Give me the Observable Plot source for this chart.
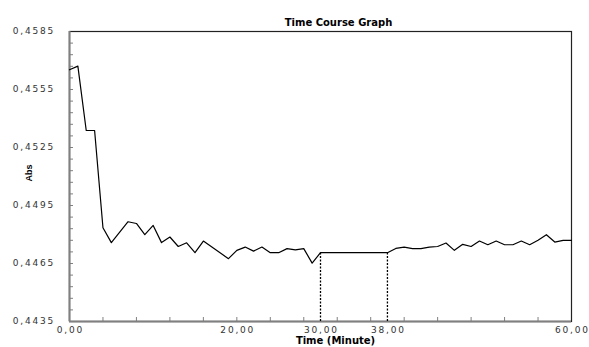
<!DOCTYPE html>
<html>
<head>
<meta charset="utf-8">
<script src="https://cdn.jsdelivr.net/npm/d3@7"></script>
<script src="https://cdn.jsdelivr.net/npm/@observablehq/plot@0.6"></script>
<style>
  html, body { margin: 0; padding: 0; background: #fff; }
  #chart svg { display: block; }
</style>
</head>
<body>
<div id="chart"></div>
<script>
const chartTitle = "Time Course Graph";
const xTitle = "Time (Minute)";
const yTitle = "Abs";

const times = [0,1,2,3,4,5,7,8,9,10,11,12,13,14,15,16,19,20,21,22,23,24,25,26,27,28,29,30,
               38,39,40,41,42,43,44,45,46,47,48,49,50,51,52,53,54,55,56,57,58,59,60];
const absValues = [0.45652,0.45671,0.45338,0.45338,0.44835,0.44758,0.44866,0.44857,0.44799,0.44847,
                   0.44758,0.44787,0.44738,0.44757,0.44706,0.44766,0.44675,0.44718,0.44735,0.44714,
                   0.44735,0.44706,0.44706,0.44727,0.44720,0.44727,0.44652,0.44706,
                   0.44706,0.44728,0.44735,0.44727,0.44727,0.44735,0.44738,0.44756,0.44718,0.44749,
                   0.44738,0.44766,0.44747,0.44766,0.44747,0.44747,0.44766,0.44747,0.44770,0.44799,
                   0.44761,0.44770,0.44770];

const markerTimes = [30, 38];
const markerValue = 0.44706;

const xLabelTicks = [0, 20, 30, 38, 60];
const xMinorTicks = [0,4,8,12,16,20,24,28,32,36,40,44,48,52,56,60];
const yLabelTicks = [0.4435, 0.4465, 0.4495, 0.4525, 0.4555, 0.4585];
const yMinorTicks = d3.range(0, 26).map(i => +(0.4435 + i * 0.0006).toFixed(4));

const data = times.map((t, i) => ({t, v: absValues[i]}));
const markers = markerTimes.map(t => ({t, v: markerValue}));

const comma = (d, n) => d.toFixed(n).replace(".", ",");
const tickFont = "DejaVu Sans, Verdana, sans-serif";

const plot = Plot.plot({
  width: 589,
  height: 347,
  marginLeft: 69,
  marginRight: 18,
  marginTop: 31,
  marginBottom: 26,
  style: {fontFamily: tickFont, background: "#fff"},
  x: {domain: [0, 60]},
  y: {domain: [0.4435, 0.4585]},
  marks: [
    // minor ticks (inward)
    Plot.axisY(yMinorTicks, {anchor: "left", tickSize: 4, dx: 4, tickFormat: () => "", stroke: "#808080", label: null}),
    Plot.axisX(xMinorTicks, {anchor: "bottom", tickSize: 4, dy: -4, tickFormat: () => "", stroke: "#808080", label: null}),
    // tick labels
    Plot.axisY(yLabelTicks, {anchor: "left", tickSize: 0, tickPadding: 14.5, tickFormat: d => comma(d, 4),
      fontSize: 9, fill: "#333", label: null}),
    Plot.axisX(xLabelTicks, {anchor: "bottom", tickSize: 0, tickPadding: 5.5, tickFormat: d => comma(d, 2),
      fontSize: 9, fill: "#333", dx: 0.9, label: null}),
    // frame
    Plot.frame({stroke: "#222", strokeWidth: 1.2}),
    Plot.ruleX([0], {stroke: "#808080", strokeWidth: 2}),
    Plot.ruleY([0.4435], {stroke: "#808080", strokeWidth: 2}),
    // dotted markers
    Plot.ruleX(markers, {x: "t", y1: 0.4435, y2: "v", stroke: "#000", strokeWidth: 1.3, strokeDasharray: "2,1.5"}),
    // data line
    Plot.line(data, {x: "t", y: "v", stroke: "#000", strokeWidth: 1.2}),
    // titles
    Plot.text([chartTitle], {frameAnchor: "top", dx: 18, dy: -13, fontSize: 10, fontWeight: "bold",
      fontFamily: "DejaVu Sans, sans-serif", fill: "#000"}),
    Plot.text([xTitle], {frameAnchor: "bottom", dx: 15, dy: 22.5, fontSize: 10, fontWeight: "bold",
      fontFamily: "DejaVu Sans, sans-serif", fill: "#000"}),
    Plot.text([yTitle], {frameAnchor: "left", dx: -40, dy: 5, rotate: -90, fontSize: 9, fontWeight: "bold",
      fontFamily: "Liberation Sans Narrow, Arial Narrow, sans-serif", fill: "#000"})
  ]
});

d3.select(plot).selectAll("g[aria-label='y-axis tick label'] text, g[aria-label='x-axis tick label'] text")
  .style("letter-spacing", "1.8px");

document.getElementById("chart").appendChild(plot);
</script>
</body>
</html>
